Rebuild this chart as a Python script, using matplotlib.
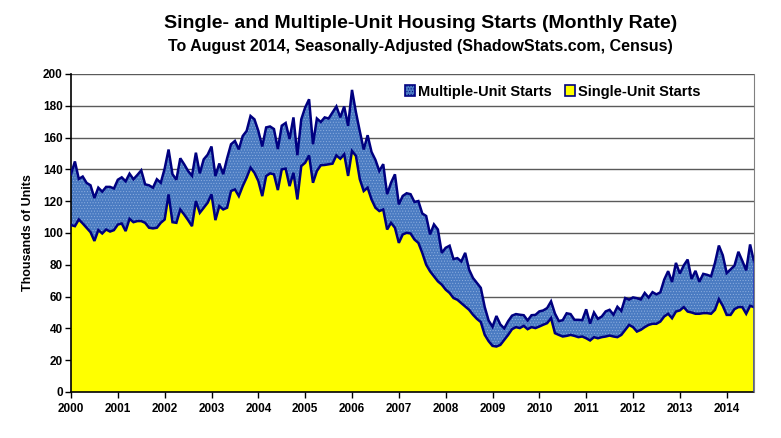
import matplotlib
matplotlib.use("Agg")
import matplotlib.pyplot as plt
from matplotlib.patches import Patch
import numpy as np

# Monthly data, Jan 2000 .. Aug 2014 (thousands of units, monthly rate)
total_starts = [
    # 2000
    137, 145, 134, 135.5, 131.5, 130, 122, 128.5, 126, 129, 129, 128,
    # 2001
    133.5, 135, 132.5, 137.3, 133.8, 136.5, 139.4, 130.6, 130, 128.5, 133.8, 131.6,
    # 2002
    140.5, 152.5, 137, 133.5, 147, 143.2, 139, 136, 150.5, 137.5, 146.3, 149.2,
    # 2003
    154.4, 135.8, 143.7, 137, 147, 155.8, 157.9, 152.6, 161, 164.2, 173.6, 171.5,
    # 2004
    164.2, 154.4, 166.4, 167, 165.4, 152.8, 167.5, 169.2, 159.1, 172.7, 148.9, 171.5,
    # 2005
    178.9, 184.1, 155.8, 172, 169.8, 172.7, 172, 175.8, 179.6, 172.7, 179.6, 167.4,
    # 2006
    190, 176, 164, 152.5, 161.5, 151, 146, 139, 143.3, 124.4, 131.6, 136.9,
    # 2007
    118, 123.3, 125, 124.4, 119.5, 120.1, 112.3, 110.7, 99.1, 105.4, 102.2, 87.5,
    # 2008
    90.7, 92, 83.6, 84.2, 82.1, 87.5, 77, 71.7, 68.6, 65.5, 53.5, 45,
    # 2009
    41, 47.8, 42.5, 40, 44.5, 48, 49, 48.6, 48.3, 45, 48.3, 48.5,
    # 2010
    50.7, 51.3, 52.8, 57, 49.3, 44.6, 45.2, 49.5, 49, 45.4, 45.4, 45.2,
    # 2011
    52, 43, 50, 46, 47.5, 50.7, 51.7, 48.6, 53.6, 51, 59.1, 58.1,
    # 2012
    59.5, 59, 58.2, 62.3, 59.4, 62.8, 61.4, 62.7, 70.7, 76, 69.2, 81.2,
    # 2013
    74.5, 79.6, 83.3, 71.1, 76.2, 69.3, 74.3, 73.7, 72.8, 81.2, 92.1, 86,
    # 2014
    74.8, 77.1, 79.5, 88.2, 82.5, 76.5, 92.8, 82,
]

single_starts = [
    # 2000
    105, 104.3, 108.5, 106, 103.3, 100.5, 95, 101.8, 99.7, 102.2, 100.9, 101.8,
    # 2001
    105.3, 106, 101.2, 108.9, 106.8, 107.5, 107.5, 106.4, 103.3, 102.9, 103.3, 106.4,
    # 2002
    108.5, 124.3, 106.8, 106.4, 114.8, 111.6, 108.1, 104.3, 120.1, 112.7, 115.9, 119,
    # 2003
    124.3, 108.1, 116.9, 114.8, 115.9, 126.4, 127.4, 123.2, 129.5, 134.8, 141.1, 137.9,
    # 2004
    132.7, 123.2, 135.8, 137.5, 136.9, 127, 140, 140.5, 129.5, 137.9, 121.1, 142.1,
    # 2005
    144.2, 148.8, 131.6, 139, 142.6, 142.8, 143.2, 143.6, 148.8, 146.7, 149.5, 135.9,
    # 2006
    151.6, 148.5, 133.8, 126.4, 128.5, 121.1, 115.9, 113.8, 114.8, 102.2, 106.4, 103.3,
    # 2007
    93.8, 99.1, 100.1, 99.7, 95.9, 93.8, 87.5, 80.1, 75.9, 72.8, 69.6, 67.5,
    # 2008
    64.4, 62.3, 59.1, 58, 55.9, 53.8, 51.7, 48.6, 46, 44, 36, 32,
    # 2009
    29, 28.6, 29.6, 32.8, 35.9, 39.5, 40.8, 40.2, 41.6, 39.5, 40.8, 40.2,
    # 2010
    41.2, 42.3, 43.3, 46.5, 37, 35.9, 34.9, 35.3, 35.9, 35.3, 34.5, 34.9,
    # 2011
    33.8, 32.4, 34.5, 33.8, 34.5, 34.9, 35.5, 34.9, 34.5, 35.9, 39.1, 42.2,
    # 2012
    40.8, 38, 39.1, 40.8, 42.2, 42.9, 42.9, 44.3, 47.5, 49.2, 46.4, 50.6,
    # 2013
    51.3, 53.4, 50.6, 50, 49.2, 49.2, 49.6, 49.6, 49.2, 51.7, 58.4, 54.2,
    # 2014
    48.5, 48.5, 52.1, 53.4, 53.4, 49.2, 54.2, 53.4,
]

start_year = 2000
year_ticks = list(range(2000, 2015))
y_ticks = list(range(0, 201, 20))

title = "Single- and Multiple-Unit Housing Starts (Monthly Rate)"
subtitle = "To August 2014, Seasonally-Adjusted (ShadowStats.com, Census)"
ylabel = "Thousands of Units"
legend_labels = ["Multiple-Unit Starts", "Single-Unit Starts"]

# ---------------------------------------------------------------------------
total = np.array(total_starts, dtype=float)
single = np.array(single_starts, dtype=float)
x = start_year + np.arange(len(total)) / 12.0

YELLOW = "#ffff00"
BLUE = "#4a7bc2"
HATCH_C = "#8fb0e0"
NAVY = "#000080"

plt.rcParams['font.family'] = ['Liberation Sans', 'DejaVu Sans']
plt.rcParams['hatch.linewidth'] = 0.4

fig = plt.figure(figsize=(7.81, 4.38), dpi=100)
ax = fig.add_axes([71 / 781, 1 - 392 / 438, (754 - 71) / 781, (392 - 74) / 438])

ax.set_xlim(x[0], x[-1])
ax.set_ylim(0, 200)

for yv in y_ticks[1:]:
    ax.axhline(yv, color="#5a5a5a", lw=1.0, zorder=1)

ax.fill_between(x, 0, single, facecolor=YELLOW, edgecolor="none", lw=0, zorder=2)
ax.fill_between(x, single, total, facecolor=BLUE, edgecolor=HATCH_C, hatch="......",
                lw=0, zorder=2)
ax.plot(x, total, color=NAVY, lw=1.8, zorder=3, solid_joinstyle="miter")
ax.plot(x, single, color=NAVY, lw=1.8, zorder=3, solid_joinstyle="miter")
ax.plot([x[-1], x[-1]], [0, total[-1]], color="#2030c0", lw=1.8, zorder=3)

ax.set_yticks(y_ticks)
ax.set_yticklabels([str(v) for v in y_ticks], fontsize=8.5, fontweight="bold")
ax.set_xticks(year_ticks)
ax.set_xticklabels([str(v) for v in year_ticks], fontsize=8.5, fontweight="bold")
ax.tick_params(axis="both", direction="out", length=4, width=1, color="black", pad=2)
ax.tick_params(axis="x", pad=4)

for s in ["left", "bottom"]:
    ax.spines[s].set_color("black")
    ax.spines[s].set_linewidth(1.2)
ax.spines["right"].set_color("#808080")
ax.spines["top"].set_visible(False)
ax.spines["right"].set_zorder(4)

ax.set_ylabel(ylabel, fontsize=9, fontweight="bold", labelpad=6)

fig.text(0.538, 1 - 24 / 438, title, ha="center", va="center", fontsize=14,
         fontweight="bold", family=['Liberation Sans Narrow', 'Liberation Sans', 'DejaVu Sans'])
fig.text(0.538, 1 - 46 / 438, subtitle, ha="center", va="center", fontsize=11.5,
         fontweight="bold", family=['Liberation Sans Narrow', 'Liberation Sans', 'DejaVu Sans'])

handles = [
    Patch(facecolor=BLUE, edgecolor=NAVY, hatch="......", lw=1.2),
    Patch(facecolor=YELLOW, edgecolor=NAVY, lw=1.2),
]
leg = ax.legend(handles, legend_labels, loc="upper left", bbox_to_anchor=(0.48, 0.985),
                ncol=2, frameon=False, fontsize=10.5, handlelength=0.7, handleheight=0.7,
                handletextpad=0.2, columnspacing=0.9, borderaxespad=0)
for t in leg.get_texts():
    t.set_fontweight("bold")

fig.savefig("out.png", dpi=100)
